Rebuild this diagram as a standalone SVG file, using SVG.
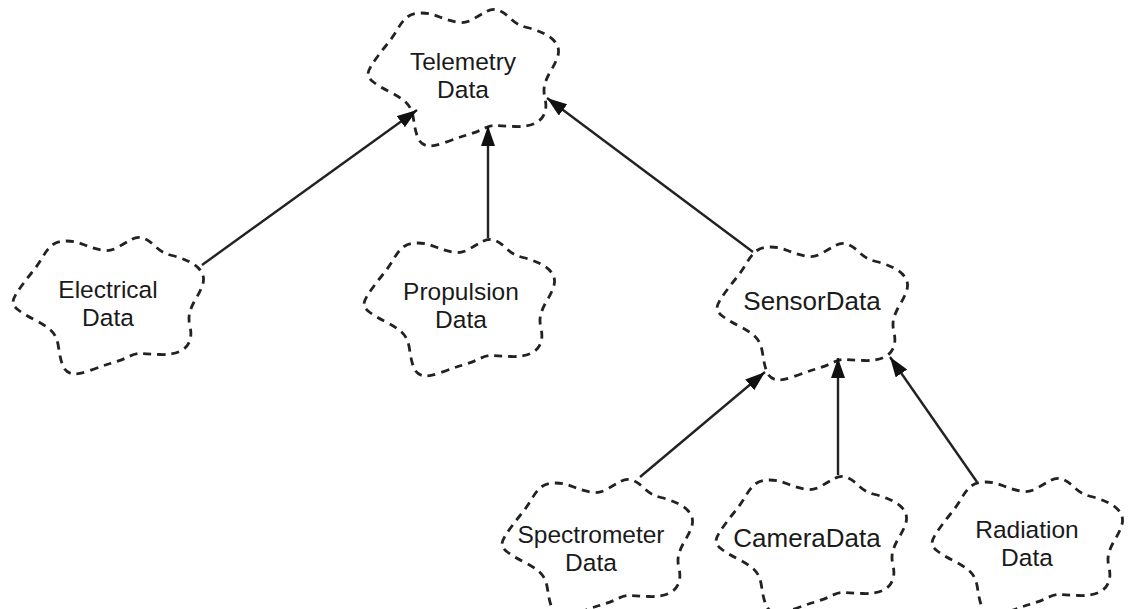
<svg xmlns="http://www.w3.org/2000/svg" xmlns:xlink="http://www.w3.org/1999/xlink" width="1131" height="609" viewBox="0 0 1131 609">
<style>
.cloud{fill:#fff;stroke:#222;stroke-width:2.8;stroke-dasharray:8 6;stroke-linecap:butt}
.lbl{font-family:"Liberation Sans",Arial,sans-serif;font-size:24.5px;fill:#1a1a1a;text-anchor:middle}
.one{font-size:26px}
.edge{stroke:#222;stroke-width:2.4;fill:none}
</style>
<defs>
<path id="cloud" d="M -89,-16.5 Q -83,-25 -76.5,-33 Q -70,-41 -65,-49.5 Q -60,-58 -55,-61.5 Q -50,-65 -41.5,-65 Q -33,-65 -24.5,-61.5 Q -16,-58 -7,-56 Q 2,-54 9.5,-58.5 Q 17,-63 23.5,-66.5 Q 30,-70 36,-67.5 Q 42,-65 48,-59 Q 54,-53 64,-50.5 Q 74,-48 82,-44 Q 90,-40 93.5,-34 Q 97,-28 94.5,-21 Q 92,-14 88,-7.5 Q 84,-1 82,5.5 Q 80,12 82,20.5 Q 84,29 81.5,35.5 Q 79,42 71.5,45.5 Q 64,49 52,48.5 Q 40,48 34,47.5 Q 28,47 21,50.5 Q 14,54 4,57 Q -6,60 -18,64.5 Q -30,69 -36.5,67.5 Q -43,66 -45.5,59 Q -48,52 -49.5,41 Q -51,30 -57,24.5 Q -63,19 -73,14 Q -83,9 -89,4.5 Q -95,0 -95,-4 Q -95,-8 -89,-16.5 Z"/>
<marker id="arrow" markerUnits="userSpaceOnUse" markerWidth="22" markerHeight="16" refX="20" refY="7" orient="auto">
<path d="M0,0 L20,7 L0,14 Z" fill="#111"/>
</marker>
</defs>
<g id="nodes">
<g id="telemetry-data"><use xlink:href="#cloud" class="cloud" transform="translate(463,78)"/><text class="lbl" x="463" y="70">Telemetry</text><text class="lbl" x="463" y="98">Data</text></g>
<g id="electrical-data"><use xlink:href="#cloud" class="cloud" transform="translate(108,306)"/><text class="lbl" x="108" y="298">Electrical</text><text class="lbl" x="108" y="326">Data</text></g>
<g id="propulsion-data"><use xlink:href="#cloud" class="cloud" transform="translate(459,308)"/><text class="lbl" x="461" y="300">Propulsion</text><text class="lbl" x="461" y="328">Data</text></g>
<g id="sensor-data"><use xlink:href="#cloud" class="cloud" transform="translate(812,312)"/><text class="lbl one" x="812" y="310">SensorData</text></g>
<g id="spectrometer-data"><use xlink:href="#cloud" class="cloud" transform="translate(597,548)"/><text class="lbl" x="591" y="543">Spectrometer</text><text class="lbl" x="591" y="571">Data</text></g>
<g id="camera-data"><use xlink:href="#cloud" class="cloud" transform="translate(811,545)"/><text class="lbl one" x="807" y="547">CameraData</text></g>
<g id="radiation-data"><use xlink:href="#cloud" class="cloud" transform="translate(1027,547)"/><text class="lbl" x="1027" y="538">Radiation</text><text class="lbl" x="1027" y="566">Data</text></g>
</g>
<g id="connectors">
<line class="edge" x1="202" y1="265" x2="417" y2="110" marker-end="url(#arrow)"/>
<line class="edge" x1="488" y1="238" x2="488" y2="126" marker-end="url(#arrow)"/>
<line class="edge" x1="753" y1="252" x2="547" y2="98" marker-end="url(#arrow)"/>
<line class="edge" x1="640" y1="477" x2="765" y2="372" marker-end="url(#arrow)"/>
<line class="edge" x1="838" y1="475" x2="838" y2="358" marker-end="url(#arrow)"/>
<line class="edge" x1="977" y1="482" x2="890" y2="357" marker-end="url(#arrow)"/>
</g>
</svg>
